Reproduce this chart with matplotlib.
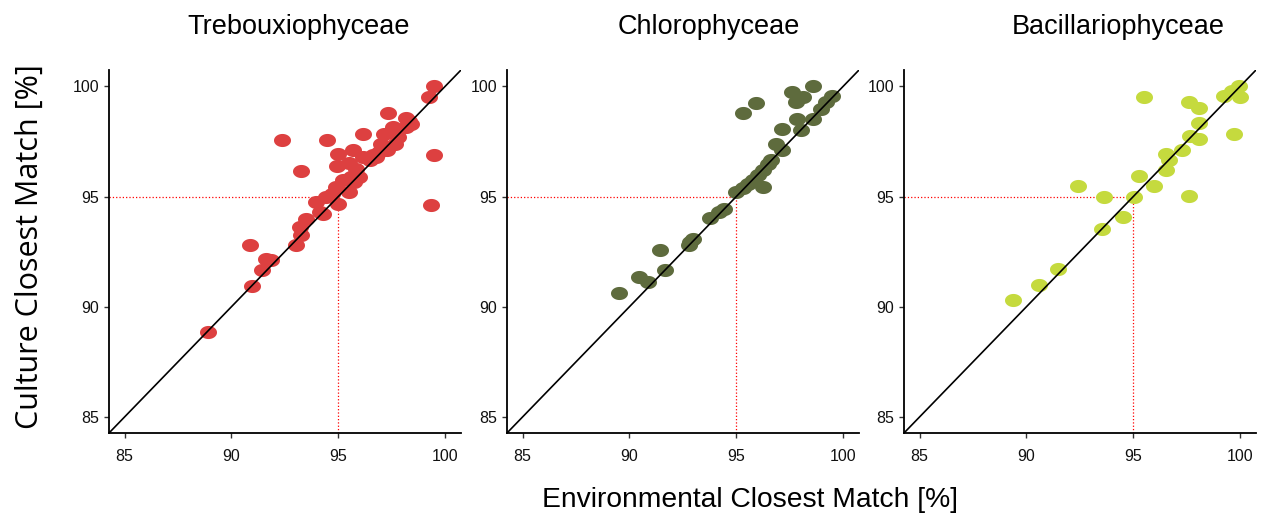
import matplotlib.pyplot as plt
import numpy as np
from matplotlib.path import Path

# Panel titles and colours
titles = ["Trebouxiophyceae", "Chlorophyceae", "Bacillariophyceae"]
colors = ["#DD4040", "#5E6B3D", "#C5DA3E"]

# Trebouxiophyceae (environmental, culture closest match in %)
treb_x = [99.5, 99.23, 97.32, 98.17, 98.33, 98.4, 97.55, 98.17, 97.16, 96.15,
          94.46, 92.37, 97.63, 97.0, 95.68, 94.98, 97.3, 96.77, 96.15, 96.46,
          94.93, 95.52, 95.83, 95.99, 95.75, 95.21, 94.9, 95.52, 94.43, 94.98,
          93.97, 99.34, 94.12, 99.5, 93.26, 94.28, 93.5, 93.19, 93.26, 93.03,
          90.85, 91.63, 91.86, 91.44, 90.97, 88.9, 96.6, 97.8, 96.9, 95.6,
          94.7]
treb_y = [100.0, 99.52, 98.8, 98.58, 98.43, 98.28, 98.15, 98.15, 97.85, 97.85,
          97.58, 97.58, 97.4, 97.4, 97.1, 96.91, 97.1, 96.79, 96.79, 96.64,
          96.37, 96.5, 96.27, 95.89, 95.66, 95.73, 95.43, 95.2, 94.98, 94.68,
          94.75, 94.6, 94.3, 96.87, 96.16, 94.22, 94.0, 93.62, 93.27, 92.78,
          92.78, 92.18, 92.1, 91.68, 90.94, 88.85, 96.9, 97.7, 97.0, 95.9,
          95.1]

# Chlorophyceae
chlo_x = [98.57, 97.6, 98.1, 97.79, 95.92, 95.29, 99.5, 99.19, 98.96, 98.57,
          97.83, 98.02, 97.13, 96.87, 97.16, 96.62, 96.46, 96.23, 96.0, 95.76,
          95.53, 96.23, 95.29, 94.98, 94.43, 94.2, 93.78, 92.95, 92.8, 92.85,
          91.42, 91.67, 90.46, 90.88, 89.52]
chlo_y = [100.0, 99.74, 99.52, 99.29, 99.26, 98.8, 99.55, 99.29, 98.99, 98.53,
          98.53, 98.0, 98.05, 97.37, 97.13, 96.64, 96.46, 96.19, 95.96, 95.73,
          95.58, 95.43, 95.4, 95.2, 94.42, 94.3, 94.02, 93.06, 92.78, 92.93,
          92.56, 91.65, 91.35, 91.12, 90.64]

# Bacillariophyceae
baci_x = [99.95, 99.64, 99.22, 99.99, 95.48, 97.59, 98.05, 98.05, 99.72, 97.66,
          98.08, 97.27, 96.53, 96.65, 96.53, 95.28, 95.95, 92.41, 93.64, 95.02,
          97.59, 94.52, 93.54, 91.46, 90.61, 89.39]
baci_y = [100.0, 99.79, 99.55, 99.52, 99.52, 99.29, 99.03, 98.34, 97.85, 97.73,
          97.6, 97.13, 96.91, 96.67, 96.19, 95.95, 95.48, 95.48, 95.0, 95.0,
          95.02, 94.07, 93.54, 91.69, 90.97, 90.29]

datasets = [(treb_x, treb_y), (chlo_x, chlo_y), (baci_x, baci_y)]

ticks = [85, 90, 95, 100]
lim = (84.27, 100.74)
threshold = 95

# Flattened ellipse marker
theta = np.linspace(0, 2 * np.pi, 60)
ellipse = Path(np.column_stack([np.cos(theta), 0.77 * np.sin(theta)]), closed=True)

fig = plt.figure(figsize=(12.63, 5.16), dpi=100)

lefts = [109 / 1263, 507 / 1263, 904 / 1263]
title_x = [299 / 1263, 709 / 1263, 1118 / 1263]
width = 352 / 1263
bottom = 1 - 433 / 516
height = 363 / 516

for i, ((xs, ys), title, color) in enumerate(zip(datasets, titles, colors)):
    ax = fig.add_axes([lefts[i], bottom, width, height])

    # Threshold guides at 95 %
    ax.plot([lim[0], threshold], [threshold, threshold], color="red",
            linestyle=":", linewidth=0.9, zorder=1)
    ax.plot([threshold, threshold], [lim[0], threshold], color="red",
            linestyle=":", linewidth=0.9, zorder=1)

    ax.scatter(xs, ys, s=150, marker=ellipse, color=color, linewidths=0,
               zorder=2)

    # 1:1 line
    ax.plot(lim, lim, color="black", linewidth=1.2, zorder=3)

    ax.set_xlim(lim)
    ax.set_ylim(lim)
    ax.set_xticks(ticks)
    ax.set_yticks(ticks)
    ax.spines["top"].set_visible(False)
    ax.spines["right"].set_visible(False)
    for side in ("left", "bottom"):
        ax.spines[side].set_linewidth(1.3)
    ax.tick_params(direction="out", length=3.5, width=1, color="#333333",
                   labelsize=11.5, labelcolor="#111111")
    ax.tick_params(axis="x", pad=8)
    for lab in ax.get_xticklabels() + ax.get_yticklabels():
        lab.set_family("Liberation Sans")

    fig.text(title_x[i], 1 - 27 / 516, title, ha="center", va="center",
             fontsize=19.5, family="Liberation Sans")

fig.text(30 / 1263, 1 - 247 / 516, "Culture Closest Match [%]", rotation=90,
         ha="center", va="center", fontsize=22, family="Open Sans")
fig.text(750 / 1263, 1 - 500 / 516, "Environmental Closest Match [%]",
         ha="center", va="center", fontsize=20.3, family="Liberation Sans")

fig.savefig("out.png", dpi=100)
